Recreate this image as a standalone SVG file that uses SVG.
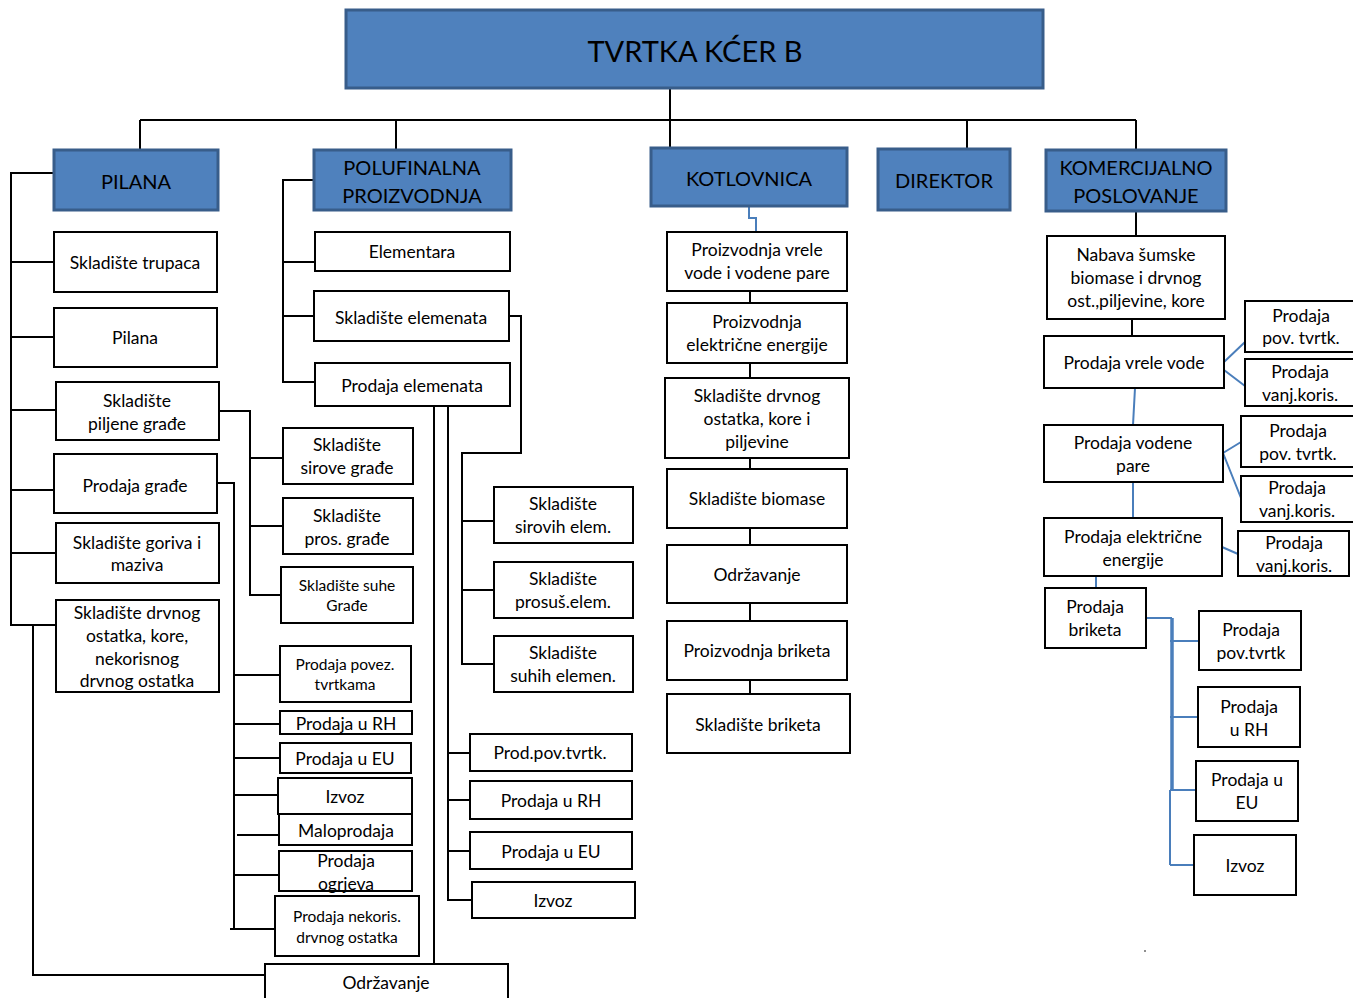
<svg xmlns="http://www.w3.org/2000/svg" width="1353" height="998" viewBox="0 0 1353 998">
<style>
.b{fill:#fff;stroke:#000;stroke-width:2}
.h{fill:#4F81BD;stroke:#385D8A;stroke-width:3}
.l{fill:none;stroke:#000;stroke-width:2}
.bl{fill:none;stroke:#4A7EBB;stroke-width:2}
text{font-family:Lato,"Open Sans","DejaVu Sans",sans-serif;font-size:17.5px;fill:#000;text-anchor:middle;dominant-baseline:central}
.t{font-size:20px}
.s{font-size:15.5px}
</style>
<rect width="1353" height="998" fill="#fff"/>
<g id="connectors">
<path class="l" d="M670,88V120M140,120H1136M140,120V150M396,120V150M670,120V148M967,120V148M1136,120V150"/>
<path class="l" d="M54,173H11V625H56M11,262H54M11,337H54M11,410H56M11,490H54M11,553H56M33,625V975H265"/>
<path class="l" d="M219,411H250V595H281M250,458H283M250,526H283"/>
<path class="l" d="M217,483H234V929H275M230,929H234M234,675H280M234,724H280M234,758H280M234,795H278M237,835H279M234,875H279"/>
<path class="l" d="M314,180H283V382H315M283,262H315M283,316H314"/>
<path class="l" d="M509,316H521V453H462V664H494M462,521H494M462,590H494"/>
<path class="l" d="M434,406V964M448,406V900H472M448,753H470M448,800H470M448,851H470"/>
<path class="bl" d="M749,206V218H756V231"/>
<path class="l" d="M750,291V303M750,363V378M750,458V469M750,528V545M750,603V621M750,680V694"/>
<path class="l" d="M1136,211V236M1132,319V336"/>
<path class="bl" d="M1135,388L1133,425M1224,362L1245,342M1224,370L1245,386M1223,453L1241,442M1223,453L1241,498M1133,482V518M1222,547L1238,554M1096,576V588"/>
<path class="bl" d="M1146,618H1172M1170,641H1199M1170,717H1198M1170,790H1196M1170,865H1194M1170,790V865"/>
<path fill="none" stroke="#4A7EBB" stroke-width="3.5" d="M1172,618V791"/>
</g>
<g id="n-top"><rect class="h" x="346" y="10" width="697" height="78"/><text x="695" y="50" style="font-size:29px">TVRTKA KĆER B</text></g>
<g id="n-pilana"><rect class="h" x="54" y="150" width="164" height="60"/><text class="t" x="136" y="181">PILANA</text></g>
<g id="n-polu"><rect class="h" x="314" y="150" width="197" height="60"/><text class="t" x="412" y="167">POLUFINALNA</text><text class="t" x="412" y="195">PROIZVODNJA</text></g>
<g id="n-kotl"><rect class="h" x="651" y="148" width="196" height="58"/><text class="t" x="749" y="178">KOTLOVNICA</text></g>
<g id="n-dir"><rect class="h" x="878" y="149" width="132" height="61"/><text class="t" x="944" y="180">DIREKTOR</text></g>
<g id="n-kom"><rect class="h" x="1046" y="150" width="180" height="61"/><text class="t" x="1136" y="167">KOMERCIJALNO</text><text class="t" x="1136" y="195">POSLOVANJE</text></g>

<g id="n-p1"><rect class="b" x="54" y="232" width="163" height="60"/><text x="135" y="262">Skladište trupaca</text></g>
<g id="n-p2"><rect class="b" x="54" y="308" width="163" height="59"/><text x="135" y="337">Pilana</text></g>
<g id="n-p3"><rect class="b" x="56" y="382" width="163" height="58"/><text x="137" y="400">Skladište</text><text x="137" y="423">piljene građe</text></g>
<g id="n-p4"><rect class="b" x="54" y="454" width="163" height="59"/><text x="135" y="485">Prodaja građe</text></g>
<g id="n-p5"><rect class="b" x="56" y="523" width="163" height="60"/><text x="137" y="542">Skladište goriva i</text><text x="137" y="564">maziva</text></g>
<g id="n-p6"><rect class="b" x="56" y="600" width="163" height="92"/><text x="137" y="612">Skladište drvnog</text><text x="137" y="635">ostatka, kore,</text><text x="137" y="658">nekorisnog</text><text x="137" y="680">drvnog ostatka</text></g>

<g id="n-g1"><rect class="b" x="283" y="428" width="130" height="56"/><text x="347" y="444">Skladište</text><text x="347" y="467">sirove građe</text></g>
<g id="n-g2"><rect class="b" x="283" y="498" width="130" height="56"/><text x="347" y="515">Skladište</text><text x="347" y="538">pros. građe</text></g>
<g id="n-g3"><rect class="b" x="281" y="567" width="132" height="56"/><text class="s" x="347" y="585">Skladište suhe</text><text class="s" x="347" y="605">Građe</text></g>

<g id="n-s1"><rect class="b" x="280" y="646" width="131" height="56"/><text class="s" x="345" y="664">Prodaja povez.</text><text class="s" x="345" y="684">tvrtkama</text></g>
<g id="n-s2"><rect class="b" x="280" y="711" width="132" height="23"/><text x="346" y="723">Prodaja u RH</text></g>
<g id="n-s3"><rect class="b" x="280" y="743" width="131" height="30"/><text x="345" y="758">Prodaja u EU</text></g>
<g id="n-s4"><rect class="b" x="278" y="778" width="134" height="36"/><text x="345" y="796">Izvoz</text></g>
<g id="n-s5"><rect class="b" x="279" y="814" width="133" height="31"/><text x="346" y="830">Maloprodaja</text></g>
<g id="n-s6"><rect class="b" x="279" y="851" width="133" height="40"/><text x="346" y="860">Prodaja</text><text x="346" y="883">ogrjeva</text></g>
<g id="n-s7"><rect class="b" x="275" y="896" width="144" height="60"/><text class="s" x="347" y="916">Prodaja nekoris.</text><text class="s" x="347" y="937">drvnog ostatka</text></g>
<g id="n-odr"><rect class="b" x="265" y="964" width="243" height="40"/><text x="386" y="982">Održavanje</text></g>

<g id="n-e1"><rect class="b" x="315" y="232" width="195" height="39"/><text x="412" y="251">Elementara</text></g>
<g id="n-e2"><rect class="b" x="314" y="291" width="195" height="50"/><text x="411" y="317">Skladište elemenata</text></g>
<g id="n-e3"><rect class="b" x="315" y="363" width="195" height="43"/><text x="412" y="385">Prodaja elemenata</text></g>
<g id="n-e4"><rect class="b" x="494" y="487" width="139" height="56"/><text x="563" y="503">Skladište</text><text x="563" y="526">sirovih elem.</text></g>
<g id="n-e5"><rect class="b" x="494" y="562" width="139" height="56"/><text x="563" y="578">Skladište</text><text x="563" y="601">prosuš.elem.</text></g>
<g id="n-e6"><rect class="b" x="494" y="636" width="139" height="56"/><text x="563" y="652">Skladište</text><text x="563" y="675">suhih elemen.</text></g>
<g id="n-e7"><rect class="b" x="470" y="734" width="162" height="37"/><text x="550" y="752">Prod.pov.tvrtk.</text></g>
<g id="n-e8"><rect class="b" x="470" y="781" width="162" height="38"/><text x="551" y="800">Prodaja u RH</text></g>
<g id="n-e9"><rect class="b" x="470" y="832" width="162" height="37"/><text x="551" y="851">Prodaja u EU</text></g>
<g id="n-e10"><rect class="b" x="472" y="882" width="163" height="36"/><text x="553" y="900">Izvoz</text></g>

<g id="n-k1"><rect class="b" x="667" y="232" width="180" height="59"/><text x="757" y="249">Proizvodnja vrele</text><text x="757" y="272">vode i vodene pare</text></g>
<g id="n-k2"><rect class="b" x="667" y="303" width="180" height="60"/><text x="757" y="321">Proizvodnja</text><text x="757" y="344">električne energije</text></g>
<g id="n-k3"><rect class="b" x="665" y="378" width="184" height="80"/><text x="757" y="395">Skladište drvnog</text><text x="757" y="418">ostatka, kore i</text><text x="757" y="441">piljevine</text></g>
<g id="n-k4"><rect class="b" x="667" y="469" width="180" height="59"/><text x="757" y="498">Skladište biomase</text></g>
<g id="n-k5"><rect class="b" x="667" y="545" width="180" height="58"/><text x="757" y="574">Održavanje</text></g>
<g id="n-k6"><rect class="b" x="667" y="621" width="180" height="59"/><text x="757" y="650">Proizvodnja briketa</text></g>
<g id="n-k7"><rect class="b" x="667" y="694" width="183" height="59"/><text x="758" y="724">Skladište briketa</text></g>

<g id="n-c1"><rect class="b" x="1047" y="236" width="178" height="83"/><text x="1136" y="254">Nabava šumske</text><text x="1136" y="277">biomase i drvnog</text><text x="1136" y="300">ost.,piljevine, kore</text></g>
<g id="n-c2"><rect class="b" x="1044" y="336" width="180" height="52"/><text x="1134" y="362">Prodaja vrele vode</text></g>
<g id="n-c3"><rect class="b" x="1044" y="425" width="179" height="57"/><text x="1133" y="442">Prodaja vodene</text><text x="1133" y="465">pare</text></g>
<g id="n-c4"><rect class="b" x="1044" y="518" width="178" height="58"/><text x="1133" y="536">Prodaja električne</text><text x="1133" y="559">energije</text></g>
<g id="n-c5"><rect class="b" x="1045" y="588" width="101" height="60"/><text x="1095" y="606">Prodaja</text><text x="1095" y="629">briketa</text></g>
<g id="n-r1"><rect class="b" x="1245" y="301" width="112" height="51"/><text x="1301" y="315">Prodaja</text><text x="1301" y="337">pov. tvrtk.</text></g>
<g id="n-r2"><rect class="b" x="1245" y="359" width="112" height="47"/><text x="1300" y="371">Prodaja</text><text x="1300" y="394">vanj.koris.</text></g>
<g id="n-r3"><rect class="b" x="1241" y="416" width="116" height="51"/><text x="1298" y="430">Prodaja</text><text x="1298" y="453">pov. tvrtk.</text></g>
<g id="n-r4"><rect class="b" x="1241" y="476" width="116" height="46"/><text x="1297" y="487">Prodaja</text><text x="1297" y="510">vanj.koris.</text></g>
<g id="n-r5"><rect class="b" x="1238" y="531" width="111" height="45"/><text x="1294" y="542">Prodaja</text><text x="1294" y="565">vanj.koris.</text></g>
<g id="n-r6"><rect class="b" x="1199" y="611" width="102" height="59"/><text x="1251" y="629">Prodaja</text><text x="1251" y="652">pov.tvrtk</text></g>
<g id="n-r7"><rect class="b" x="1198" y="687" width="102" height="60"/><text x="1249" y="706">Prodaja</text><text x="1249" y="729">u RH</text></g>
<g id="n-r8"><rect class="b" x="1196" y="761" width="102" height="60"/><text x="1247" y="779">Prodaja u</text><text x="1247" y="802">EU</text></g>
<g id="n-r9"><rect class="b" x="1194" y="835" width="102" height="60"/><text x="1245" y="865">Izvoz</text></g>
<circle cx="1145" cy="951" r="0.8" fill="#000"/>
</svg>
